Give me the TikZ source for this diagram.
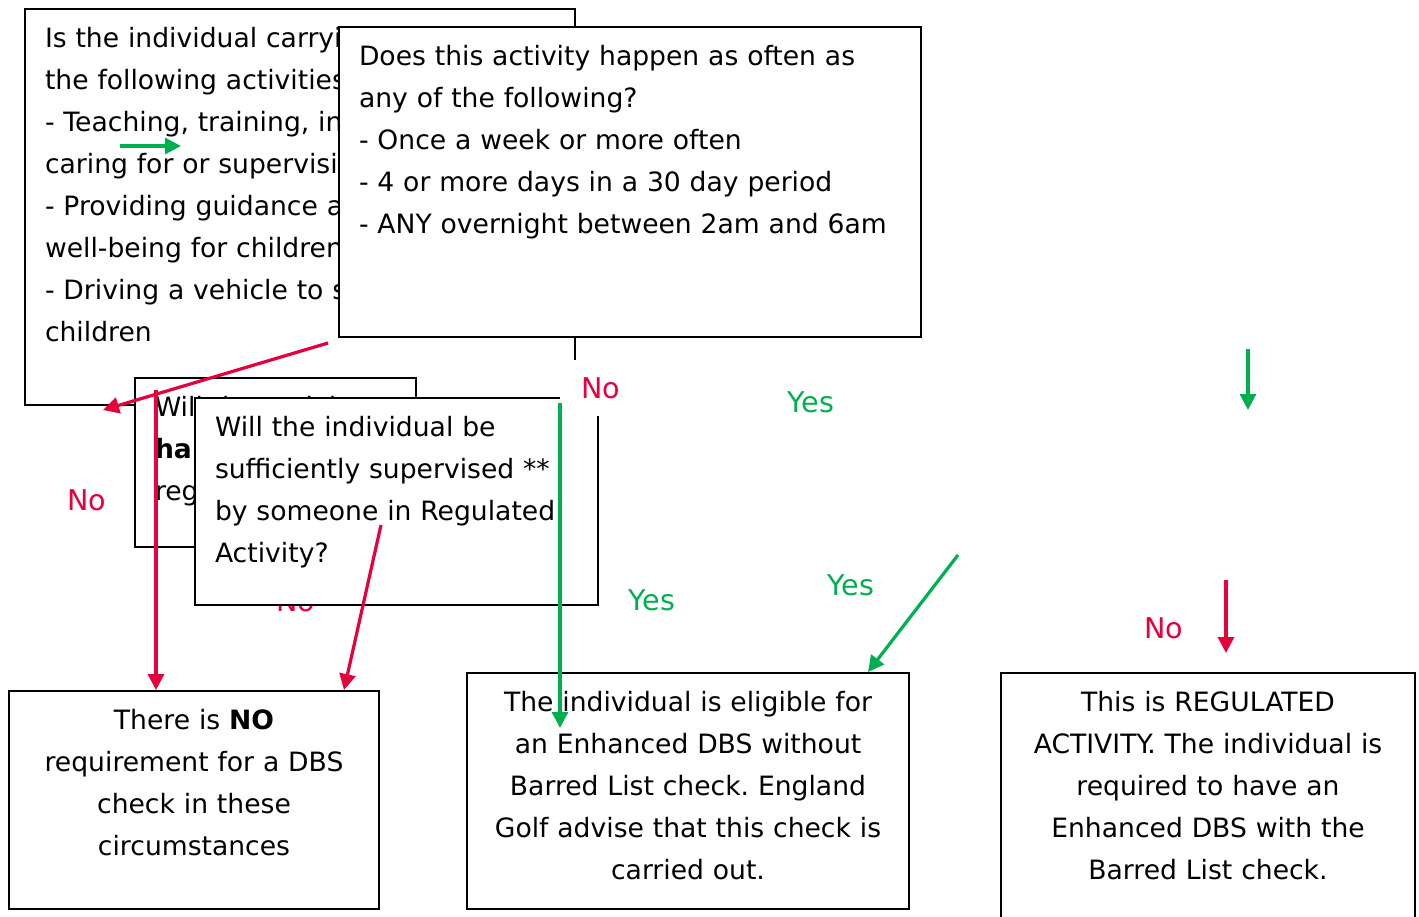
\documentclass[tikz,border=0pt]{standalone}
\usepackage{fontspec}
\setmainfont{DejaVu Sans}
\frenchspacing
\usetikzlibrary{arrows.meta}
\definecolor{dbsred}{RGB}{230,0,60}
\definecolor{dbsgreen}{RGB}{0,176,80}
\tikzset{
  box/.style={draw, line width=1pt, fill=white, anchor=north west, align=left,
    text height=15pt, inner xsep=10pt, inner ysep=4pt, font=\fontsize{13.3}{21}\selectfont},
  endbox/.style={box, align=center, inner xsep=6pt},
  lab/.style={font=\fontsize{14.3}{17}\selectfont, inner sep=1pt},
  no/.style={lab, text=dbsred},
  yes/.style={lab, text=dbsgreen},
  redarr/.style={dbsred, line width=1.6pt, -{Triangle[length=8pt,width=8pt]}},
  greenarr/.style={dbsgreen, line width=1.6pt, -{Triangle[length=8pt,width=8pt]}}
}
\begin{document}
\begin{tikzpicture}[x=0.5pt,y=-0.5pt]
\clip (0,0) rectangle (1419,916);
\fill[white] (0,0) rectangle (1419,916);
% questions, back to front
\node[box, text width=255pt, text depth=175pt] (activity) at (24,8) {Is the individual carrying out any of\\the following activities?\\- Teaching, training, instructing,\\caring for or supervising children\\- Providing guidance and advice on\\well-being for children\\- Driving a vehicle to support\\children};
\node[box, text width=271pt, text depth=132pt] (often) at (338,26) {Does this activity happen as often as\\any of the following?\\- Once a week or more often\\- 4 or more days in a 30 day period\\- ANY overnight between 2am and 6am};
\node[box, text width=120.5pt, text depth=61.5pt] (regular) at (134,377) {Will the activity\\\textbf{happen}\\regularly?};
\node[no] (noSup) at (296,601) {No};
\node[box, text width=181.5pt, text depth=80.5pt] (supervised) at (194,397) {Will the individual be\\sufficiently supervised **\\by someone in Regulated\\Activity?};
\node[no, fill=white, minimum width=41pt, minimum height=28pt] (noOften) at (601,388) {No};
% outcomes
\node[endbox, text width=173pt, text depth=86pt] (noCheck) at (8,690) {There is \textbf{NO}\\requirement for a DBS\\check in these\\circumstances};
\node[endbox, text width=209pt, text depth=95pt] (enhanced) at (466,672) {The individual is eligible for\\an Enhanced DBS without\\Barred List check. England\\Golf advise that this check is\\carried out.};
\node[endbox, text width=195pt, text depth=111pt] (regulated) at (1000,672) {This is REGULATED\\ACTIVITY. The individual is\\required to have an\\Enhanced DBS with the\\Barred List check.};
% answers
\node[no] (noFreq) at (87,500) {No};
\node[yes] (yesOften) at (811,402) {Yes};
\node[yes] (yesSup) at (652,600) {Yes};
\node[yes] (yesEnh) at (851,585) {Yes};
\node[no] (noReg) at (1164,628) {No};
% arrows
\coordinate (tickA) at (120,146);
\coordinate (tickB) at (181,146);
\coordinate (sweepA) at (328,343);
\coordinate (sweepB) at (103,410);
\coordinate (dropA) at (156,390);
\coordinate (slopeA) at (381,525);
\coordinate (longA) at (560,403);
\coordinate (longB) at (560,728);
\coordinate (diagA) at (958,555);
\coordinate (rightA) at (1248,349);
\coordinate (rightB) at (1248,410);
\coordinate (lowA) at (1226,580);
\coordinate (lowB) at (1226,653);
\draw[greenarr] (tickA) -- (tickB);
\draw[redarr] (sweepA) -- (sweepB);
\draw[redarr] (dropA) -- (dropA |- noCheck.north);
\draw[redarr] (slopeA) -- ([xshift=-18pt]noCheck.north east);
\draw[greenarr] (longA) -- (longB);
\draw[greenarr] (diagA) -- ([xshift=-21pt]enhanced.north east);
\draw[greenarr] (rightA) -- (rightB);
\draw[redarr] (lowA) -- (lowB);
\end{tikzpicture}
\end{document}
